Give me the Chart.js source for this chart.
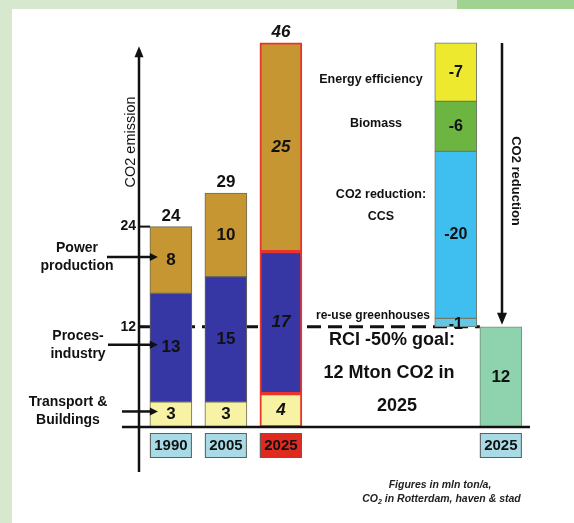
<!DOCTYPE html>
<html>
<head>
<meta charset="utf-8">
<script src="https://cdn.jsdelivr.net/npm/chart.js@4.4.1/dist/chart.umd.min.js"></script>
<style>
  html, body { margin: 0; padding: 0; background: #fff; }
  #wrap { position: relative; width: 574px; height: 523px; }
</style>
</head>
<body>
<div id="wrap"><canvas id="chart" width="574" height="523"></canvas></div>
<script>
// CO2 emission in Rotterdam (mln ton/a)
const years = ['1990', '2005', '2025'];
const transport = [3, 3, 4];
const industry = [13, 15, 17];
const power = [8, 10, 25];
const totals = [24, 29, 46]; // as printed above the columns (rounded)
const sectorNames = ['Transport &|Buildings', 'Proces-|industry', 'Power|production'];

// reduction steps from the 2025 total down to the goal (top to bottom)
const reductionNames = ['Energy efficiency', 'Biomass', 'CO2 reduction:|CCS', 're-use greenhouses'];
const reductions = [-7, -6, -20, -1];

const goalYear = '2025';
const goal = 12;
const yTicks = [12, 24];

// column slots on the hidden linear x axis
const columns = [0, 1, 2];
const reductionColumn = 5.18;
const goalColumn = 6;

const FONT = "'Liberation Sans', Arial, sans-serif";
const sectorColors = ['#f7f2a4', '#3636a4', '#c59631'];
const reductionColors = ['#ece92f', '#6cb541', '#3ebff0', '#63c7e3'];
const RED = '#e8352a';

// build floating segments from the arrays
const level = years.map(() => 0);
const emissionSets = [transport, industry, power].map((vals, s) => {
  const data = vals.map((v, i) => {
    const seg = { x: columns[i], y: [level[i], level[i] + v], v };
    level[i] += v;
    return seg;
  });
  return {
    label: sectorNames[s].replace('|', ' '),
    data,
    backgroundColor: sectorColors[s],
    borderColor: years.map((_, i) => i === years.length - 1 ? RED : '#6d6b55'),
    borderWidth: years.map((_, i) => i === years.length - 1 ? 2 : 1),
  };
});

let rest = level[level.length - 1];
const reductionData = reductions.map(r => {
  const seg = { x: reductionColumn, y: [rest + r, rest], v: r };
  rest += r;
  return seg;
});

const datasets = [
  ...emissionSets,
  {
    label: 'Reduction',
    data: reductionData,
    backgroundColor: reductionColors,
    borderColor: '#6f7a6a',
    borderWidth: 1,
  },
  {
    label: 'Goal',
    data: [{ x: goalColumn, y: [0, goal], v: goal }],
    backgroundColor: '#8fd3ae',
    borderColor: '#6f8f7f',
    borderWidth: 1,
  },
];

function arrowHead(ctx, x, y, dir, w, h) {
  ctx.beginPath();
  if (dir === 'up') { ctx.moveTo(x, y); ctx.lineTo(x - w / 2, y + h); ctx.lineTo(x + w / 2, y + h); }
  if (dir === 'down') { ctx.moveTo(x, y); ctx.lineTo(x - w / 2, y - h); ctx.lineTo(x + w / 2, y - h); }
  if (dir === 'right') { ctx.moveTo(x, y); ctx.lineTo(x - h, y - w / 2); ctx.lineTo(x - h, y + w / 2); }
  ctx.closePath();
  ctx.fill();
}

function line(ctx, x1, y1, x2, y2, w) {
  ctx.lineWidth = w;
  ctx.beginPath();
  ctx.moveTo(x1, y1);
  ctx.lineTo(x2, y2);
  ctx.stroke();
}

const decor = {
  id: 'decor',
  beforeDraw(chart) {
    const ctx = chart.ctx;
    ctx.save();
    ctx.fillStyle = '#d6e9cf';
    ctx.fillRect(0, 0, chart.width, chart.height);
    ctx.fillStyle = '#ffffff';
    ctx.fillRect(12, 9, chart.width - 12, chart.height - 9);
    ctx.fillStyle = '#a0d291';
    ctx.fillRect(457, 0, chart.width - 457, 9);
    ctx.restore();
  },
  beforeDatasetsDraw(chart) {
    const { ctx, chartArea, scales: { x, y } } = chart;
    const gy = y.getPixelForValue(goal);
    const goalLeft = x.getPixelForValue(goalColumn) - 21;
    ctx.save();
    ctx.strokeStyle = '#111';
    ctx.setLineDash([14, 7]);
    line(ctx, chartArea.left, gy, goalLeft, gy, 3);
    ctx.restore();
  },
  afterDatasetsDraw(chart) {
    const { ctx, chartArea, scales: { x, y } } = chart;
    const ax = chartArea.left;
    const by = y.getPixelForValue(0);
    ctx.save();
    ctx.strokeStyle = '#111';
    ctx.fillStyle = '#111';

    // axes
    const tipY = y.getPixelForValue(45.6);
    line(ctx, ax, by + 45, ax, tipY + 8, 2.5);
    arrowHead(ctx, ax, tipY, 'up', 9, 11);
    line(ctx, ax - 17, by, chartArea.right, by, 2.5);

    // y ticks
    ctx.font = 'bold 14px ' + FONT;
    ctx.textAlign = 'right';
    ctx.textBaseline = 'middle';
    yTicks.forEach(t => {
      const py = y.getPixelForValue(t);
      line(ctx, ax, py, ax + (t === 24 ? 11 : 5), py, 2);
      ctx.fillText(String(t), ax - 3, py);
    });

    // y title
    ctx.save();
    ctx.translate(ax - 8, 142);
    ctx.rotate(-Math.PI / 2);
    ctx.textAlign = 'center';
    ctx.font = '14.5px ' + FONT;
    ctx.fillText('CO2 emission', 0, 0);
    ctx.restore();

    // segment values
    ctx.textAlign = 'center';
    chart.data.datasets.forEach((ds, di) => {
      const meta = chart.getDatasetMeta(di);
      meta.data.forEach((el, i) => {
        const italic = di < 3 && i === years.length - 1;
        ctx.font = (italic ? 'italic ' : '') + 'bold ' + (di === 3 ? 16 : 17) + 'px ' + FONT;
        const cy = (el.y + el.base) / 2 + (di === 3 && i === 3 ? 2 : 0);
        ctx.fillText(String(ds.data[i].v), el.x, cy);
      });
    });

    // totals on top of emission columns
    ctx.textBaseline = 'bottom';
    totals.forEach((t, i) => {
      const italic = i === years.length - 1;
      const top = chart.getDatasetMeta(2).data[i].y;
      ctx.font = (italic ? 'italic ' : '') + 'bold 17px ' + FONT;
      ctx.fillText(String(t), x.getPixelForValue(columns[i]), top - 2);
    });

    // sector call-outs pointing at the 1990 column
    const first = chart.getDatasetMeta(0).data[0];
    const tips = first.x - 21 + 8;
    const startX = [122, 108, 107];
    const textX = [68, 78, 77];
    ctx.font = 'bold 14px ' + FONT;
    ctx.textBaseline = 'middle';
    sectorNames.forEach((name, s) => {
      const el = chart.getDatasetMeta(s).data[0];
      const py = (el.y + el.base) / 2 - 3;
      line(ctx, startX[s], py, tips - 6, py, 2.5);
      arrowHead(ctx, tips, py, 'right', 8, 8);
      const parts = name.split('|');
      ctx.fillText(parts[0], textX[s], py - 9);
      ctx.fillText(parts[1], textX[s], py + 9);
    });

    // reduction notes
    const notes = [[371, 80], [376, 124], [381, 195], [373, 316]];
    reductionNames.forEach((name, i) => {
      ctx.font = 'bold ' + (i === 3 ? 12 : 12.5) + 'px ' + FONT;
      name.split('|').forEach((part, k) => ctx.fillText(part, notes[i][0], notes[i][1] + k * 22));
    });

    // reduction arrow
    const rx = 502;
    const rTop = y.getPixelForValue(level[level.length - 1]);
    const rTip = y.getPixelForValue(goal) - 2;
    line(ctx, rx, rTop, rx, rTip - 8, 2.5);
    arrowHead(ctx, rx, rTip, 'down', 10, 12);
    ctx.save();
    ctx.translate(516, 181);
    ctx.rotate(Math.PI / 2);
    ctx.font = 'bold 13px ' + FONT;
    ctx.fillText('CO2 reduction', 0, 0);
    ctx.restore();

    // goal text
    ctx.font = 'bold 18px ' + FONT;
    ctx.fillText('RCI -50% goal:', 392, 340);
    ctx.fillText('12 Mton CO2 in', 389, 373);
    ctx.fillText('2025', 397, 406);

    // year boxes
    const boxes = years.map((yr, i) => [yr, columns[i], i === years.length - 1]).concat([[goalYear, goalColumn, false]]);
    ctx.font = 'bold 15px ' + FONT;
    boxes.forEach(([yr, col, red]) => {
      const cx = x.getPixelForValue(col);
      ctx.fillStyle = red ? '#e02a20' : '#a9dbe7';
      ctx.fillRect(cx - 21, by + 6, 42, 25);
      ctx.strokeStyle = '#5e5e5e';
      ctx.lineWidth = 1;
      ctx.strokeRect(cx - 20.5, by + 6.5, 41, 24);
      ctx.fillStyle = '#111';
      ctx.fillText(yr, cx, by + 19);
    });

    // footnote
    ctx.font = 'italic bold 10.5px ' + FONT;
    ctx.fillStyle = '#222';
    ctx.fillText('Figures in mln ton/a,', 440, 485);
    const a = 'CO', b = ' in Rotterdam, haven & stad';
    const wa = ctx.measureText(a).width, wb = ctx.measureText(b).width;
    ctx.font = 'italic bold 7px ' + FONT;
    const ws = ctx.measureText('2').width;
    const left = 441.5 - (wa + ws + wb) / 2;
    ctx.textAlign = 'left';
    ctx.fillText('2', left + wa, 502);
    ctx.font = 'italic bold 10.5px ' + FONT;
    ctx.fillText(a, left, 499);
    ctx.fillText(b, left + wa + ws, 499);

    ctx.restore();
  },
};

new Chart(document.getElementById('chart'), {
  type: 'bar',
  data: { datasets },
  options: {
    responsive: false,
    animation: false,
    devicePixelRatio: 1,
    layout: { padding: { left: 139, right: 44, top: 9.5, bottom: 96 } },
    datasets: { bar: { grouped: false, barThickness: 42, borderSkipped: false } },
    scales: {
      x: { type: 'linear', display: false, min: -0.58, max: 6.53, offset: false },
      y: { display: false, min: 0, max: 50 },
    },
    plugins: { legend: { display: false }, tooltip: { enabled: false } },
  },
  plugins: [decor],
});
</script>
</body>
</html>
